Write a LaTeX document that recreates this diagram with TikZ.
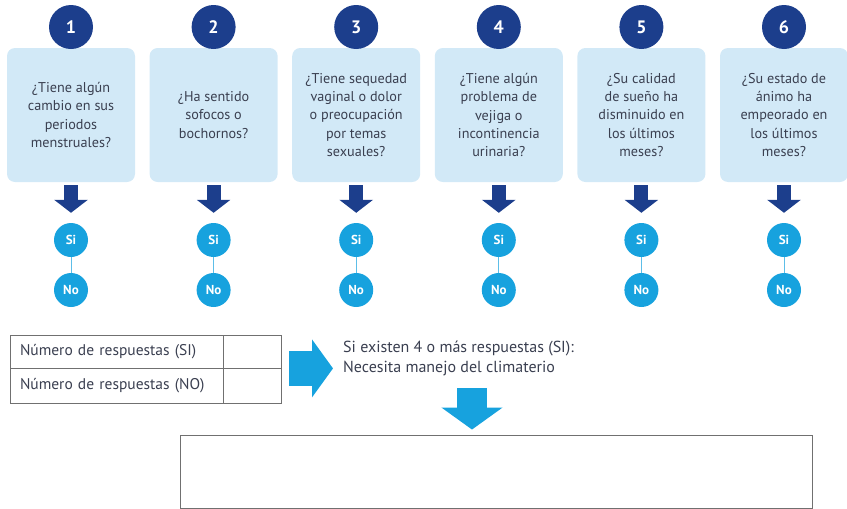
\documentclass[tikz,border=0pt]{standalone}
\usepackage{fontspec}
\setmainfont{PT Sans}
\usepackage{tikz}
\usetikzlibrary{arrows.meta,positioning}

\definecolor{navy}{HTML}{1C3E8C}
\definecolor{sky}{HTML}{17A2DE}
\definecolor{qfill}{HTML}{D2E9F7}
\definecolor{qtext}{HTML}{3A3F50}
\definecolor{rule}{HTML}{707070}

\begin{document}
\begin{tikzpicture}[x=1pt, y=-1pt,
    qbox/.style={rectangle, rounded corners=8pt, fill=qfill,
                minimum width=128pt, minimum height=134pt, align=center,
                text=qtext, font=\fontsize{14.2}{18.3}\selectfont},
    num/.style={circle, fill=navy, minimum size=44pt, inner sep=0pt,
                text=white, font=\fontsize{18}{18}\selectfont\bfseries},
    ans/.style={circle, fill=sky, minimum size=34pt, inner sep=0pt,
                text=white, font=\fontsize{13}{13}\selectfont\bfseries},
    cell/.style={rectangle, draw=rule, line width=0.8pt, inner xsep=10pt,
                text=qtext, font=\fontsize{15.5}{17}\selectfont},
    darr/.style={-{Triangle[length=13pt, width=33pt]}, line width=14pt,
                navy, shorten <=3pt, shorten >=10pt},
    link/.style={sky!70, line width=1pt},
    barr/.style={-{Triangle[length=21pt, width=57pt]}, line width=35pt, sky},
    dnarr/.style={-{Triangle[length=22pt, width=60pt]}, line width=30pt, sky},
]
\useasboundingbox (0,0) rectangle (847,509);

% --- Questions ---
\node[qbox] (q1) at (71,115) {¿Tiene algún\\cambio en sus\\periodos\\menstruales?};
\node[qbox] (q2) at (213.6,115) {¿Ha sentido\\sofocos o\\bochornos?};
\node[qbox] (q3) at (356.2,115) {¿Tiene sequedad\\vaginal o dolor\\o preocupación\\por temas\\sexuales?};
\node[qbox] (q4) at (498.8,115) {¿Tiene algún\\problema de\\vejiga o\\incontinencia\\urinaria?};
\node[qbox] (q5) at (641.4,115) {¿Su calidad\\de sueño ha\\disminuido en\\los últimos\\meses?};
\node[qbox] (q6) at (784,115) {¿Su estado de\\ánimo ha\\empeorado en\\los últimos\\meses?};

\node[num] (n1) at (71,27) {1};
\node[num] (n2) at (213.6,27) {2};
\node[num] (n3) at (356.2,27) {3};
\node[num] (n4) at (498.8,27) {4};
\node[num] (n5) at (641.4,27) {5};
\node[num] (n6) at (784,27) {6};

% --- Answers ---
\node[ans] (si1) at (71,240) {Si};
\node[ans] (si2) at (213.6,240) {Si};
\node[ans] (si3) at (356.2,240) {Si};
\node[ans] (si4) at (498.8,240) {Si};
\node[ans] (si5) at (641.4,240) {Si};
\node[ans] (si6) at (784,240) {Si};
\node[ans] (no1) at (71,290) {No};
\node[ans] (no2) at (213.6,290) {No};
\node[ans] (no3) at (356.2,290) {No};
\node[ans] (no4) at (498.8,290) {No};
\node[ans] (no5) at (641.4,290) {No};
\node[ans] (no6) at (784,290) {No};

\draw[darr] (q1.south) -- (si1.north);
\draw[darr] (q2.south) -- (si2.north);
\draw[darr] (q3.south) -- (si3.north);
\draw[darr] (q4.south) -- (si4.north);
\draw[darr] (q5.south) -- (si5.north);
\draw[darr] (q6.south) -- (si6.north);
\draw[link] (si1) -- (no1);
\draw[link] (si2) -- (no2);
\draw[link] (si3) -- (no3);
\draw[link] (si4) -- (no4);
\draw[link] (si5) -- (no5);
\draw[link] (si6) -- (no6);

% --- Count table ---
\node[cell, text width=193pt, minimum height=33pt, align=left] (lsi) at (116.5,351.5) {Número de respuestas (SI)};
\node[cell, minimum width=58pt, minimum height=33pt] (vsi) at (252,351.5) {};
\node[cell, text width=193pt, minimum height=35pt, align=left] (lno) at (116.5,385.5) {Número de respuestas (NO)};
\node[cell, minimum width=58pt, minimum height=35pt] (vno) at (252,385.5) {};

% --- Result ---
\node[anchor=north west, inner sep=0pt, align=left, text=qtext,
  font=\fontsize{16}{20}\selectfont] (msg) at (343,341)
  {Si existen 4 o más respuestas (SI):\\Necesita manejo del climaterio};
\node[rectangle, draw=rule, line width=0.9pt, minimum width=632pt,
  minimum height=73pt] (res) at (496,471.5) {};
\coordinate (dtop) at (472,388);

\draw[barr, shorten <=8pt, shorten >=10pt] (vsi.south east) -- (vsi.south east -| msg.west);
\draw[dnarr, shorten >=5pt] (dtop) -- (dtop |- res.north);

\end{tikzpicture}
\end{document}
